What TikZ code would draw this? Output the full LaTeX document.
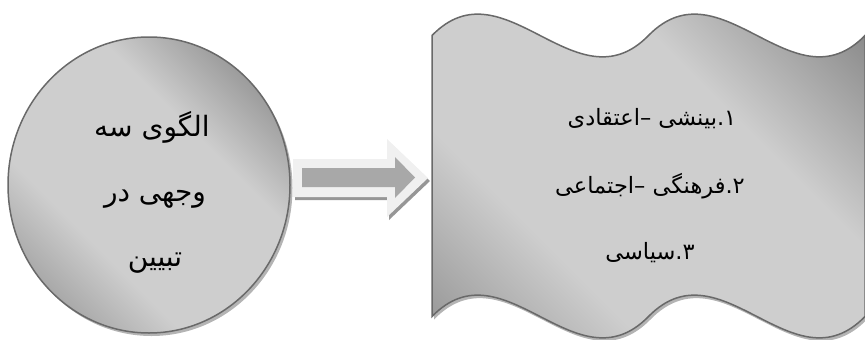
\documentclass[tikz,border=0pt]{standalone}
\usepackage{fontspec}
\usetikzlibrary{shapes.geometric}
\TeXXeTstate=1
\newfontfamily\arabicfont[Script=Arabic]{DejaVu Sans}
\definecolor{gsw}{RGB}{132,132,132}
\definecolor{gne}{RGB}{114,114,114}
\definecolor{glight}{RGB}{206,206,206}
\definecolor{outl}{RGB}{105,105,105}
\definecolor{shad}{RGB}{180,180,180}
\definecolor{arrborder}{RGB}{240,240,240}
\definecolor{arrfill}{RGB}{168,168,168}
\definecolor{arrshad}{RGB}{150,150,150}
\pgfdeclarehorizontalshading{diaggrad}{100bp}{color(0bp)=(gsw); color(14bp)=(gsw); color(36bp)=(glight); color(62bp)=(glight); color(86bp)=(gne); color(100bp)=(gne)}
\tikzset{
  grad/.style={shading=diaggrad, shading angle=45},
  outline/.style={draw=outl, line width=1.5pt},
  ctxt/.style={font=\arabicfont\fontsize{28}{32}\selectfont, anchor=base, inner sep=0pt, text=black},
  wtxt/.style={font=\arabicfont\fontsize{22.5}{27}\selectfont, anchor=base, inner sep=0pt, text=black},
}
\begin{document}
\begin{tikzpicture}[x=1pt,y=-1pt]
\useasboundingbox (0,0) rectangle (865,340);
% circle shadow
\node[ellipse, minimum width=282pt, minimum height=296pt, inner sep=0pt, outer sep=0pt, fill=shad] (cshadow) at (151.5,188) {};
% circle
\node[ellipse, minimum width=282pt, minimum height=296pt, inner sep=0pt, outer sep=0pt, grad, outline] (circ) at (149,185) {};
\node[ctxt] (c1) at (152,136) {\beginR الگوی سه\endR};
\node[ctxt] (c2) at (155,201) {\beginR وجهی در\endR};
\node[ctxt] (c3) at (155,266) {\beginR تبیین\endR};
% arrow
\fill[arrshad] (295,162) -- (389,162) -- (389,142) -- (430,181) -- (389,220) -- (389,200) -- (295,200) -- cycle;
\fill[arrborder] (293,159) -- (387,159) -- (387,139) -- (428,178) -- (387,217) -- (387,197) -- (293,197) -- cycle;
\fill[arrfill] (302,168) -- (395,168) -- (395,157) -- (415,177.5) -- (395,198) -- (395,187) -- (302,187) -- cycle;
% wave shadow
\fill[shad, shift={(2,3)}] (432,35.5) .. controls (504,-38.5) and (576,109.5) .. (648.5,35.5)
  .. controls (721,-38.5) and (793,109.5) .. (865,35.5) -- (865,316.5)
  .. controls (793,390.5) and (721,242.5) .. (648.5,316.5)
  .. controls (576,390.5) and (504,242.5) .. (432,316.5) -- cycle;
% wave
\path[grad, outline] (432,35.5) .. controls (504,-38.5) and (576,109.5) .. (648.5,35.5)
  .. controls (721,-38.5) and (793,109.5) .. (865,35.5) -- (865,316.5)
  .. controls (793,390.5) and (721,242.5) .. (648.5,316.5)
  .. controls (576,390.5) and (504,242.5) .. (432,316.5) -- cycle;
\node[wtxt] (w1) at (652,125) {\beginR ۱.بینشی –اعتقادی\endR};
\node[wtxt] (w2) at (650,193) {\beginR ۲.فرهنگی –اجتماعی\endR};
\node[wtxt] (w3) at (650,259) {\beginR ۳.سیاسی\endR};
\end{tikzpicture}
\end{document}
